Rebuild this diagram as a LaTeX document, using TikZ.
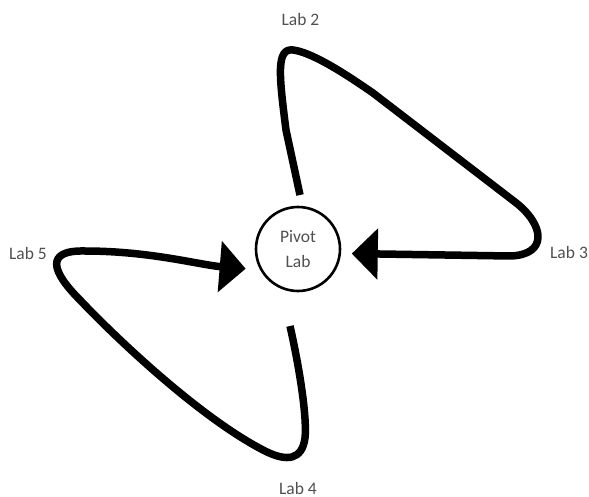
\documentclass[tikz,border=0pt]{standalone}
\usepackage{fontspec}
\setmainfont{Carlito}
\usetikzlibrary{arrows.meta,positioning}
\definecolor{labgray}{RGB}{80,80,80}
\begin{document}
\begin{tikzpicture}[x=1pt,y=-1pt]
\tikzstyle{pivotnode}=[circle,line width=2.6pt,draw=black,
inner sep=0pt,outer sep=0pt,minimum size=84pt,
align=center,text=labgray,font=\fontsize{17.5}{25.5}\selectfont]
\tikzstyle{lab}=[text=labgray,inner sep=0pt,font=\fontsize{17.5}{21}\selectfont]
\tikzstyle{loopline}=[line width=7.5pt,line join=round]
\tikzstyle{bigtip}=[-{Triangle[length=26pt,width=50pt]}]
\useasboundingbox (0,0) rectangle (589,497);

\node[pivotnode] at (298,249) (pivot) {Pivot\\Lab};
\node[lab,above of =pivot,node distance=230pt,xshift=2.5pt](lab2) {Lab 2};
\node[lab,right of =pivot,node distance=271pt,yshift=-3.5pt](lab3) {Lab 3};
\node[lab,below of =pivot,node distance=239pt](lab4) {Lab 4};
\node[lab,left of =pivot,node distance=270pt,yshift=-4.5pt](lab5) {Lab 5};

\coordinate (2a) at (286,130);
\coordinate (2c1) at (279,75);
\coordinate (2c2) at (276,48);
\coordinate (2t) at (293,50);
\coordinate (2c3) at (310,52);
\coordinate (2c4) at (340,70);
\coordinate (2b) at (373,93);
\coordinate (3a) at (515,202);
\coordinate (3c1) at (545,225);
\coordinate (3c2) at (548,255);
\coordinate (3b) at (510,256);

\coordinate (4c1) at (301,375);
\coordinate (4c2) at (307,420);
\coordinate (4a) at (305,438);
\coordinate (4c3) at (302,460);
\coordinate (4c4) at (287,462);
\coordinate (4b) at (265,451);
\coordinate (5c1) at (200,418);
\coordinate (5c2) at (115,337);
\coordinate (5a) at (80,300);
\coordinate (5c3) at (52,272);
\coordinate (5c4) at (44,250);
\coordinate (5b) at (85,251);
\coordinate (5c5) at (150,251);
\coordinate (5c6) at (200,265);

\draw[loopline,bigtip,shorten >=12pt] ([shift={(2pt,12pt)}]pivot.north) -- (2a)
 .. controls (2c1) and (2c2) .. (2t) .. controls (2c3) and (2c4) .. (2b) -- (3a)
 .. controls (3c1) and (3c2) .. (3b) -- (pivot.-6);
\draw[loopline,bigtip,shorten >=16pt] ([shift={(-8pt,-35pt)}]pivot.south)
 .. controls (4c1) and (4c2) .. (4a) .. controls (4c3) and (4c4) .. (4b)
 .. controls (5c1) and (5c2) .. (5a) .. controls (5c3) and (5c4) .. (5b)
 .. controls (5c5) and (5c6) .. (pivot.210);

\end{tikzpicture}
\end{document}
